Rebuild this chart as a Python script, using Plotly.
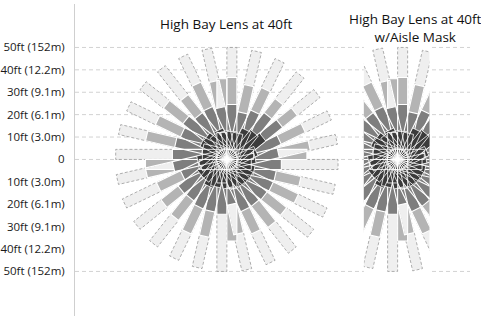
import math
import plotly.graph_objects as go

# ---- data (feet) ----
angles = [0, 12.9, 25.7, 38.6, 51.4, 64.3, 77.1, 90, 102.9, 115.7, 128.6, 141.4, 154.3, 167.1,
          180, 192.9, 205.7, 218.6, 231.4, 244.3, 257.1, 270, 282.9, 295.7, 308.6, 321.4, 334.3, 347.1]
r_dark = [11.0, 12.5, 13.4, 18.8, 17.0, 15.6, 12.5, 12.5, 12.5, 13.4, 12.1, 13.4, 13.4, 11.6,
          11.0, 12.9, 12.0, 13.4, 13.0, 14.3, 13.0, 10.5, 12.5, 13.0, 13.0, 13.0, 13.0, 13.0]
r_mid = [24.5, 23.2, 25.0, 28.5, 26.8, 24.5, 21.9, 24.5, 23.2, 24.1, 23.2, 25.4, 23.2, 24.1,
         24.5, 24.1, 21.0, 24.5, 23.7, 24.5, 24.1, 24.5, 20.0, 23.7, 23.2, 23.2, 23.2, 22.8]
r_gray = [0, 37.5, 37.0, 37.0, 34.8, 35.7, 34.4, 36.6, 35.3, 36.2, 33.5, 36.6, 35.7, 37.5,
          0, 36.6, 33.0, 34.4, 34.8, 37.0, 35.7, 0, 33.5, 34.8, 35.3, 34.4, 35.7, 34.2]
r_outer = [50] * 28
pair_angles = [0, 90, 180, 270]
pair_dark = [12.0, 12.0, 12.5, 13.0]
pair_gray = [36.0, 36.0, 36.6, 36.4]

tick_vals = [50, 40, 30, 20, 10, 0, -10, -20, -30, -40, -50]
tick_text = ["50ft (152m)", "40ft (12.2m)", "30ft (9.1m)", "20ft (6.1m)", "10ft (3.0m)", "0",
             "10ft (3.0m)", "20ft (6.1m)", "30ft (9.1m)", "40ft (12.2m)", "50ft (152m)"]
grid_vals = [50, 40, 30, 20, 10, 0, -50]
title_left = "High Bay Lens at 40ft"
title_right = "High Bay Lens at 40ft<br>w/Aisle Mask"

BAR_W = 4.5
FONT = "Open Sans, Lato, sans-serif"


def bars(theta_list, len_list, side):
    xs, ys = [], []
    for th, L in zip(theta_list, len_list):
        if not L:
            continue
        t = math.radians(th)
        ux, uy = math.cos(t), math.sin(t)
        nx, ny = side * math.sin(t), -side * math.cos(t)
        xs += [0, L * ux, L * ux + BAR_W * nx, BAR_W * nx, 0, None]
        ys += [0, L * uy, L * uy + BAR_W * ny, BAR_W * ny, 0, None]
    return xs, ys


def cat(a, b):
    return a[0] + b[0], a[1] + b[1]


tiers = [
    (bars(angles, r_outer, 1), "#efefef", dict(color="#9a9a9a", width=0.8, dash="3px,2px")),
    (cat(bars(angles, r_gray, 1), bars(pair_angles, pair_gray, -1)), "#b4b4b4",
     dict(color="#ffffff", width=1.1)),
    (bars(angles, r_mid, 1), "#7e7e7e", dict(color="#ffffff", width=1.1)),
    (cat(bars(angles, r_dark, 1), bars(pair_angles, pair_dark, -1)), "#3b3b3b",
     dict(color="#ffffff", width=0.8)),
]

fig = go.Figure()
for xa in ["x", "x2"]:
    for (xs, ys), fillc, line in tiers:
        fig.add_trace(go.Scatter(x=xs, y=ys, mode="lines", fill="toself", fillcolor=fillc,
                                 line=line, xaxis=xa, yaxis="y", hoverinfo="skip",
                                 showlegend=False))

shapes = []
for v in grid_vals:
    shapes.append(dict(type="line", xref="paper", yref="y", x0=0, x1=0.973, y0=v, y1=v,
                       line=dict(color="#d2d2d2", width=1, dash="4px,3px"), layer="below"))

fig.update_layout(
    width=481, height=325,
    margin=dict(l=72, r=0, t=4, b=9, pad=0),
    paper_bgcolor="white", plot_bgcolor="white",
    xaxis=dict(domain=[0, 1], range=[-68.3, 114.3], visible=False),
    xaxis2=dict(domain=[0.7115, 0.8729], range=[-15.18, 14.29], anchor="y", visible=False),
    yaxis=dict(range=[-69.9, 69.4], tickvals=tick_vals, ticktext=tick_text,
               showgrid=False, zeroline=False, showline=True, linecolor="#cfcfcf",
               linewidth=1, ticks="", ticklabelstandoff=7,
               tickfont=dict(family=FONT, size=11.5, color="#1a1a1a")),
    shapes=shapes,
    annotations=[
        dict(text=title_left, xref="paper", yref="paper", x=0.374, y=0.936, showarrow=False,
             font=dict(family=FONT, size=13.5, color="#111"), xanchor="center", yanchor="middle"),
        dict(text=title_right, xref="paper", yref="paper", x=0.8386, y=0.9215, showarrow=False,
             font=dict(family=FONT, size=13.5, color="#111"), xanchor="center", yanchor="middle"),
    ],
)

fig.write_html("out.html", config={"displayModeBar": False},
               post_script="document.body.style.margin='0';")
